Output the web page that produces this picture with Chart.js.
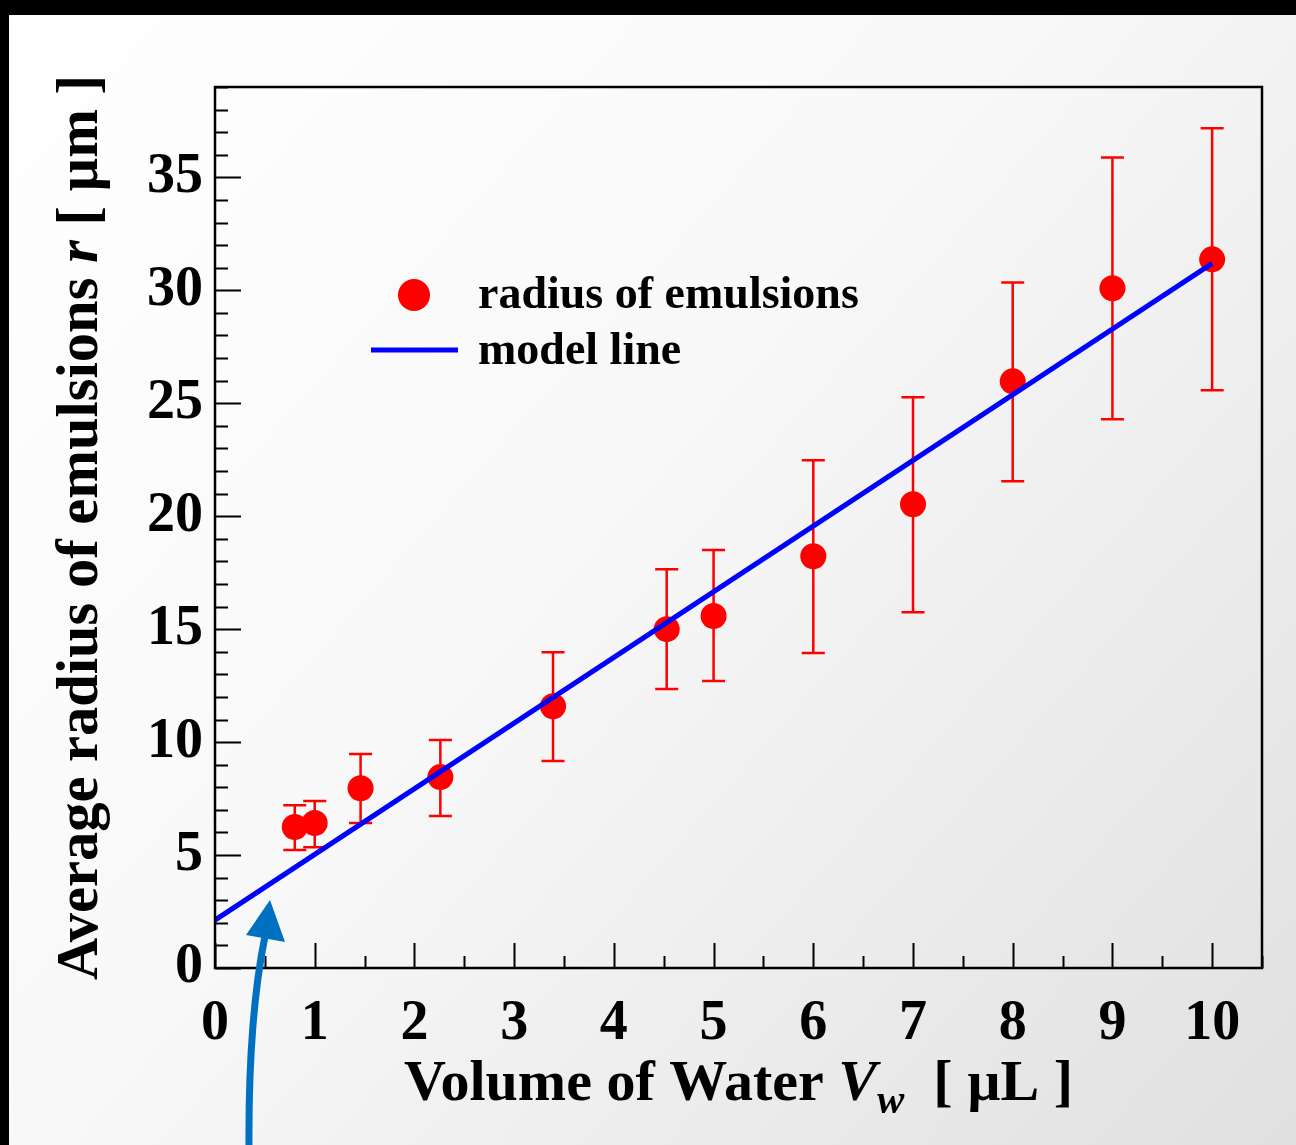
<!DOCTYPE html>
<html>
<head>
<meta charset="utf-8">
<script src="https://cdn.jsdelivr.net/npm/chart.js@4"></script>
<style>
  html, body { margin: 0; padding: 0; background: #000; }
  canvas { display: block; }
</style>
</head>
<body>
<canvas id="emulsionChart" width="1296" height="1145"></canvas>
<script>
// measured points: volume of water [uL] vs. average radius [um]
const volume = [0.8, 1.0, 1.46, 2.26, 3.39, 4.53, 5.0, 6.0, 7.0, 8.0, 9.0, 10.0];
const radius = [6.24, 6.42, 7.96, 8.45, 11.59, 15.0, 15.58, 18.23, 20.53, 25.97, 30.09, 31.37];
const radiusHigh = [7.21, 7.39, 9.47, 10.09, 13.98, 17.65, 18.5, 22.48, 25.27, 30.35, 35.88, 37.17];
const radiusLow = [5.22, 5.35, 6.42, 6.73, 9.16, 12.35, 12.7, 13.94, 15.75, 21.55, 24.29, 25.58];

// model line end points
const modelX = [0, 10];
const modelY = [2.12, 31.19];

const xTicks = [0, 1, 2, 3, 4, 5, 6, 7, 8, 9, 10];
const yTicks = [0, 5, 10, 15, 20, 25, 30, 35];
const xMinorStep = 0.5;
const yMinorStep = 1;

const SERIF = "'Liberation Serif', 'DejaVu Serif', serif";

const backgroundPlugin = {
  id: "slideBackground",
  beforeDraw(chart) {
    const { ctx, width, height } = chart;
    ctx.save();
    ctx.fillStyle = "#000";
    ctx.fillRect(0, 0, width, height);
    const g = ctx.createLinearGradient(9, 15, width, height);
    g.addColorStop(0, "#ffffff");
    g.addColorStop(0.45, "#f8f8f8");
    g.addColorStop(1, "#e0e0e0");
    ctx.fillStyle = g;
    ctx.fillRect(9, 15, width - 9, height - 15);
    ctx.restore();
  },
};

const errorBarPlugin = {
  id: "errorBars",
  beforeDatasetsDraw(chart) {
    const { ctx, scales } = chart;
    ctx.save();
    ctx.strokeStyle = "#ff0000";
    ctx.lineWidth = 2.5;
    for (let i = 0; i < volume.length; i++) {
      const x = scales.x.getPixelForValue(volume[i]);
      const yTop = scales.y.getPixelForValue(radiusHigh[i]);
      const yBot = scales.y.getPixelForValue(radiusLow[i]);
      ctx.beginPath();
      ctx.moveTo(x, yTop);
      ctx.lineTo(x, yBot);
      ctx.moveTo(x - 11.5, yTop);
      ctx.lineTo(x + 11.5, yTop);
      ctx.moveTo(x - 11.5, yBot);
      ctx.lineTo(x + 11.5, yBot);
      ctx.stroke();
    }
    ctx.restore();
  },
};

function drawRich(ctx, parts, x, y) {
  // parts: [text, font, dy]
  let total = 0;
  parts.forEach((p) => {
    ctx.font = p[1];
    total += ctx.measureText(p[0]).width;
  });
  let cx = x - total / 2;
  parts.forEach((p) => {
    ctx.font = p[1];
    ctx.fillText(p[0], cx, y + (p[2] || 0));
    cx += ctx.measureText(p[0]).width;
  });
}

const framePlugin = {
  id: "frameAndTitles",
  afterDatasetsDraw(chart) {
    const { ctx, chartArea: a, scales } = chart;
    ctx.save();
    ctx.strokeStyle = "#000";
    ctx.lineWidth = 2;

    // inward ticks on left and bottom axes
    ctx.beginPath();
    for (let v = 0; v <= scales.y.max; v += yMinorStep) {
      const y = Math.round(scales.y.getPixelForValue(v)) + 0.5;
      const len = yTicks.includes(v) ? 26 : 13;
      ctx.moveTo(a.left, y);
      ctx.lineTo(a.left + len, y);
    }
    for (let v = 0; v <= scales.x.max; v += xMinorStep) {
      const x = Math.round(scales.x.getPixelForValue(v)) + 0.5;
      const len = xTicks.includes(v) ? 25 : 12;
      ctx.moveTo(x, a.bottom);
      ctx.lineTo(x, a.bottom - len);
    }
    ctx.stroke();

    ctx.lineWidth = 2.5;
    ctx.strokeRect(a.left, a.top, a.right - a.left, a.bottom - a.top);
    ctx.restore();
  },
  afterDraw(chart) {
    const { ctx, chartArea: a } = chart;
    ctx.save();
    ctx.fillStyle = "#000";
    ctx.textBaseline = "alphabetic";
    ctx.textAlign = "left";

    // x axis title
    drawRich(ctx, [
      ["Volume of Water ", "bold 58px " + SERIF],
      ["V", "italic bold 58px " + SERIF],
      ["w", "italic bold 41px " + SERIF, 13],
      ["  [ \u00b5L ]", "bold 58px " + SERIF],
    ], (a.left + a.right) / 2, 1100);

    // y axis title
    ctx.translate(97, (a.top + a.bottom) / 2);
    ctx.rotate(-Math.PI / 2);
    drawRich(ctx, [
      ["Average radius of emulsions ", "bold 58.5px " + SERIF],
      ["r", "italic bold 58.5px " + SERIF],
      [" [ \u00b5m ]", "bold 58.5px " + SERIF],
    ], 0, 0);
    ctx.restore();

    // legend
    const ds = chart.data.datasets;
    const pts = ds.find((d) => d.id === "pts");
    const mdl = ds.find((d) => d.id === "mdl");
    ctx.save();
    ctx.fillStyle = pts.backgroundColor;
    ctx.beginPath();
    ctx.arc(414, 295, 16, 0, Math.PI * 2);
    ctx.fill();
    ctx.strokeStyle = mdl.borderColor;
    ctx.lineWidth = 5;
    ctx.beginPath();
    ctx.moveTo(371, 350);
    ctx.lineTo(458, 350);
    ctx.stroke();
    ctx.fillStyle = "#000";
    ctx.font = "bold 46px " + SERIF;
    ctx.fillText(pts.label, 478, 308);
    ctx.fillText(mdl.label, 478, 364);
    ctx.restore();

    // blue arrow annotation
    ctx.save();
    ctx.strokeStyle = "#0070c0";
    ctx.fillStyle = "#0070c0";
    ctx.lineWidth = 7;
    ctx.beginPath();
    ctx.moveTo(249, 1150);
    ctx.quadraticCurveTo(248, 1020, 265, 936);
    ctx.stroke();
    ctx.beginPath();
    ctx.moveTo(270, 900);
    ctx.lineTo(285, 942);
    ctx.lineTo(246, 935);
    ctx.closePath();
    ctx.fill();
    ctx.restore();
  },
};

const ctx = document.getElementById("emulsionChart").getContext("2d");
new Chart(ctx, {
  type: "scatter",
  data: {
    datasets: [
      {
        id: "mdl",
        type: "line",
        label: "model line",
        data: modelX.map((x, i) => ({ x: x, y: modelY[i] })),
        borderColor: "#0000ff",
        borderWidth: 5,
        pointRadius: 0,
        fill: false,
      },
      {
        id: "pts",
        label: "radius of emulsions",
        data: volume.map((x, i) => ({ x: x, y: radius[i] })),
        backgroundColor: "#ff0000",
        borderWidth: 0,
        pointRadius: 13,
        pointHoverRadius: 13,
      },
    ],
  },
  options: {
    responsive: false,
    animation: false,
    devicePixelRatio: 1,
    layout: { padding: { top: 87, right: 34, left: 0, bottom: 0 } },
    plugins: {
      legend: { display: false },
      tooltip: { enabled: false },
    },
    scales: {
      x: {
        type: "linear",
        min: 0,
        max: 10.5,
        grid: { display: false },
        border: { display: false },
        afterBuildTicks: (scale) => {
          scale.ticks = xTicks.map((v) => ({ value: v }));
        },
        afterFit: (scale) => {
          scale.height = 177;
        },
        ticks: {
          autoSkip: false,
          maxRotation: 0,
          padding: 15,
          color: "#000",
          font: { family: SERIF, size: 56, weight: "bold" },
        },
      },
      y: {
        type: "linear",
        min: 0,
        max: 39,
        grid: { display: false },
        border: { display: false },
        afterBuildTicks: (scale) => {
          scale.ticks = yTicks.map((v) => ({ value: v }));
        },
        afterFit: (scale) => {
          scale.width = 215;
        },
        ticks: {
          autoSkip: false,
          padding: 4,
          color: "#000",
          font: { family: SERIF, size: 56, weight: "bold" },
        },
      },
    },
  },
  plugins: [backgroundPlugin, errorBarPlugin, framePlugin],
});
</script>
</body>
</html>
